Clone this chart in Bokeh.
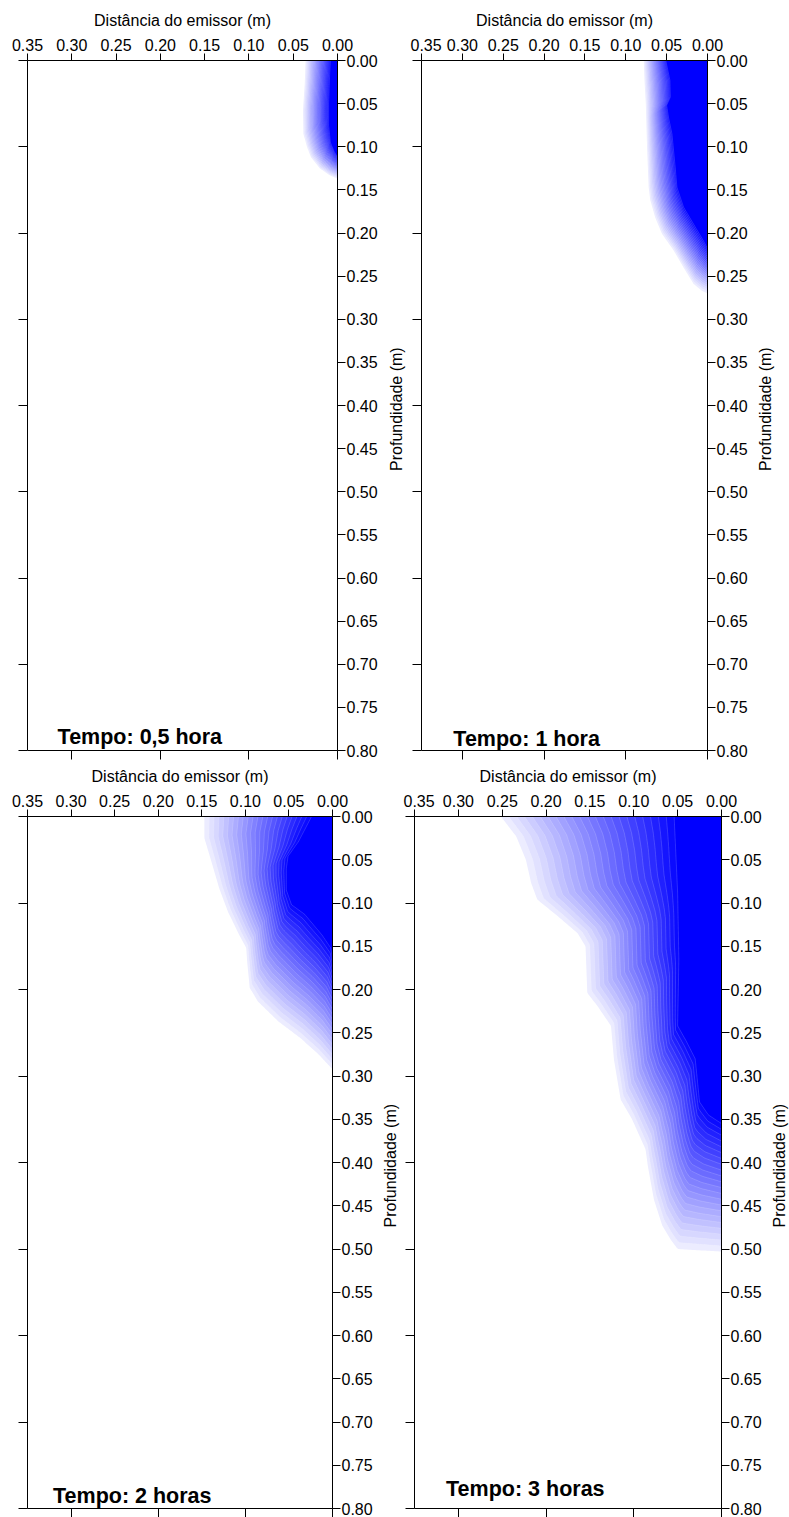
import numpy as np
from bokeh.plotting import figure
from bokeh.models import (Range1d, LinearAxis, FixedTicker, NumeralTickFormatter,
                          CustomJSTickFormatter, ColumnDataSource)
from bokeh.layouts import column, row
from bokeh.embed import file_html
from bokeh.resources import INLINE
from bokeh.core.properties import value

FONT = "Liberation Sans"

# ---- axis ticks -------------------------------------------------------------
distance_ticks = [0.35, 0.30, 0.25, 0.20, 0.15, 0.10, 0.05, 0.00]
depth_ticks = [0.00, 0.05, 0.10, 0.15, 0.20, 0.25, 0.30, 0.35, 0.40,
               0.45, 0.50, 0.55, 0.60, 0.65, 0.70, 0.75, 0.80]
depth_minor_marks = [0.0, 0.1, 0.2, 0.3, 0.4, 0.5, 0.6, 0.7, 0.8]
distance_minor_marks = [0.30, 0.20, 0.10, 0.00]

# ---- wetting fronts (distance from emitter, depth), in metres --------------
# outer edge of the wetted bulb and edge of the saturated core for each time

# 0.5 hour
outer_05h_x = [0.036, 0.037, 0.039, 0.0385, 0.0345, 0.030, 0.020, 0.009, 0.0]
outer_05h_d = [0.000, 0.027, 0.058, 0.085, 0.100, 0.112, 0.125, 0.133, 0.137]
inner_05h_x = [0.008, 0.009, 0.010, 0.010, 0.008, 0.004, 0.0]
inner_05h_d = [0.000, 0.020, 0.050, 0.075, 0.095, 0.105, 0.112]

# 1 hour
outer_1h_x = [0.078, 0.077, 0.0755, 0.074, 0.072, 0.070, 0.064, 0.0557,
              0.0416, 0.0293, 0.0171, 0.0068, 0.0]
outer_1h_d = [0.000, 0.025, 0.050, 0.100, 0.147, 0.162, 0.182, 0.201,
              0.220, 0.240, 0.259, 0.267, 0.270]
inner_1h_x = [0.051, 0.046, 0.0455, 0.050, 0.0477, 0.0435, 0.0395, 0.0374,
              0.0293, 0.015, 0.005, 0.0]
inner_1h_d = [0.000, 0.023, 0.0425, 0.052, 0.066, 0.085, 0.124, 0.147,
              0.170, 0.193, 0.209, 0.218]

# 2 hours
outer_2h_x = [0.147, 0.147, 0.139, 0.130, 0.120, 0.107, 0.099, 0.098, 0.095,
              0.0855, 0.062, 0.037, 0.016, 0.003, 0.0]
outer_2h_d = [0.000, 0.025, 0.052, 0.083, 0.110, 0.137, 0.152, 0.167, 0.198,
              0.214, 0.237, 0.256, 0.275, 0.289, 0.292]
inner_2h_x = [0.024, 0.039, 0.051, 0.053, 0.053, 0.047, 0.032, 0.012, 0.002, 0.0]
inner_2h_d = [0.000, 0.029, 0.046, 0.060, 0.085, 0.102, 0.113, 0.137, 0.152, 0.165]

# 3 hours
outer_3h_x = [0.2515, 0.234, 0.223, 0.217, 0.210, 0.187, 0.164, 0.155, 0.153,
              0.1415, 0.126, 0.1226, 0.115, 0.102, 0.0865, 0.084, 0.077,
              0.0675, 0.058, 0.050, 0.0]
outer_3h_d = [0.000, 0.023, 0.050, 0.077, 0.096, 0.115, 0.135, 0.150, 0.204,
              0.219, 0.242, 0.281, 0.327, 0.350, 0.385, 0.404, 0.443,
              0.473, 0.489, 0.500, 0.503]
inner_3h_x = [0.054, 0.050, 0.0486, 0.050, 0.040, 0.030, 0.028, 0.025, 0.015, 0.0]
inner_3h_d = [0.000, 0.088, 0.165, 0.242, 0.260, 0.280, 0.300, 0.330, 0.345, 0.355]

panel_titles = ["Tempo: 0,5 hora", "Tempo: 1 hora", "Tempo: 2 horas", "Tempo: 3 horas"]
depth_title = "Profundidade (m)"
distance_title = "Distância do emissor (m)"

N_LEVELS = 22


def resample(xs, ds, n=260):
    xs = np.asarray(xs, float)
    ds = np.asarray(ds, float)
    s = np.concatenate([[0.0], np.cumsum(np.hypot(np.diff(xs), np.diff(ds)))])
    s /= s[-1]
    u = np.linspace(0.0, 1.0, n)
    return np.interp(u, s, xs), np.interp(u, s, ds)


def level_color(k):
    t = k / N_LEVELS
    c = int(round(236 * (1.0 - t)))
    return "#%02x%02x%02x" % (c, c, 255)


def base_axis(ticks, tick_out, formatter):
    return LinearAxis(
        ticker=FixedTicker(ticks=ticks, minor_ticks=[]),
        formatter=formatter,
        axis_line_color="black", axis_line_width=1,
        major_tick_line_color="black", major_tick_line_width=1,
        major_tick_in=0, major_tick_out=tick_out,
        minor_tick_in=0, minor_tick_out=0,
        major_label_text_font=FONT, major_label_text_font_size="16px",
        major_label_text_color="black",
    )


def make_panel(ox, od, ix, idp, title, tx, ty, w, h, bl, br, bt, bb):
    p = figure(width=w, height=h,
               x_range=Range1d(0.35, 0.0), y_range=Range1d(0.80, 0.0),
               x_axis_type=None, y_axis_type=None,
               output_backend="svg", toolbar_location=None,
               min_border_left=bl, min_border_right=br,
               min_border_top=bt, min_border_bottom=bb)
    p.outline_line_color = None
    p.background_fill_color = "white"
    p.border_fill_color = "white"

    # wetted bulb: filled levels from the outer front inwards to the saturated core
    oxr, odr = resample(ox, od)
    ixr, idr = resample(ix, idp)
    xs, ys, cols, lxs, lys = [], [], [], [], []
    for k in range(N_LEVELS + 1):
        f = k / N_LEVELS
        cx = oxr + (ixr - oxr) * f
        cd = odr + (idr - odr) * f
        xs.append(list(cx) + [0.0])
        ys.append(list(cd) + [0.0])
        cols.append(level_color(k))
        if k > 0:
            lxs.append(list(cx))
            lys.append(list(cd))
    p.patches(xs="xs", ys="ys", fill_color="color", line_color=None,
              source=ColumnDataSource(dict(xs=xs, ys=ys, color=cols)))
    p.multi_line(xs=lxs, ys=lys, line_color="white", line_alpha=0.28, line_width=0.6)

    p.text(x=[tx], y=[ty], text=[title], text_font=value(FONT),
           text_font_style="bold", text_font_size="21.5px", text_color="black",
           text_baseline="alphabetic", text_align="left")

    blank = CustomJSTickFormatter(code="return ''")

    top = base_axis(distance_ticks, 7, NumeralTickFormatter(format="0.00"))
    top.major_label_standoff = 3
    top.axis_label = distance_title
    top.axis_label_text_font = FONT
    top.axis_label_text_font_size = "16px"
    top.axis_label_text_font_style = "normal"
    top.axis_label_text_color = "black"
    top.axis_label_standoff = 7
    p.add_layout(top, "above")

    right = base_axis(depth_ticks, 8, NumeralTickFormatter(format="0.00"))
    right.major_label_standoff = 1
    p.add_layout(right, "right")

    left = base_axis(depth_minor_marks, 9, blank)
    left.major_label_standoff = 0
    left.major_label_text_font_size = "1px"
    p.add_layout(left, "left")

    bottom = base_axis(distance_minor_marks, 9, blank)
    bottom.major_label_standoff = 0
    bottom.major_label_text_font_size = "1px"
    p.add_layout(bottom, "below")
    return p


def depth_title_strip(w, h, cx, cy):
    """Narrow strip holding the vertical depth title, read bottom-to-top."""
    s = figure(width=w, height=h, x_range=Range1d(0, w), y_range=Range1d(h, 0),
               x_axis_type=None, y_axis_type=None,
               output_backend="svg", toolbar_location=None, min_border=0)
    s.outline_line_color = None
    s.background_fill_color = "white"
    s.border_fill_color = "white"
    s.text(x=[cx], y=[cy], text=[depth_title], angle=np.pi / 2,
           text_font=value(FONT), text_font_size="16px", text_color="black",
           text_align="center", text_baseline="middle")
    return s


p1 = make_panel(outer_05h_x, outer_05h_d, inner_05h_x, inner_05h_d, panel_titles[0],
                0.316, 0.784, 382, 760, 27, 45, 60, 10)
s1 = depth_title_strip(28, 760, 14, 384)
p2 = make_panel(outer_1h_x, outer_1h_d, inner_1h_x, inner_1h_d, panel_titles[1],
                0.311, 0.787, 341, 760, 11, 44, 60, 10)
s2 = depth_title_strip(38, 760, 14, 384)

p3 = make_panel(outer_2h_x, outer_2h_d, inner_2h_x, inner_2h_d, panel_titles[2],
                0.3207, 0.785, 377, 757, 27, 45, 56, 9)
s3 = depth_title_strip(26, 757, 13, 382)
p4 = make_panel(outer_3h_x, outer_3h_d, inner_3h_x, inner_3h_d, panel_titles[3],
                0.314, 0.7775, 362, 757, 11, 44, 56, 9)
s4 = depth_title_strip(24, 757, 14, 382)

layout = column(row(p1, s1, p2, s2), row(p3, s3, p4, s4))

open("out.html", "w").write(file_html(layout, INLINE))
